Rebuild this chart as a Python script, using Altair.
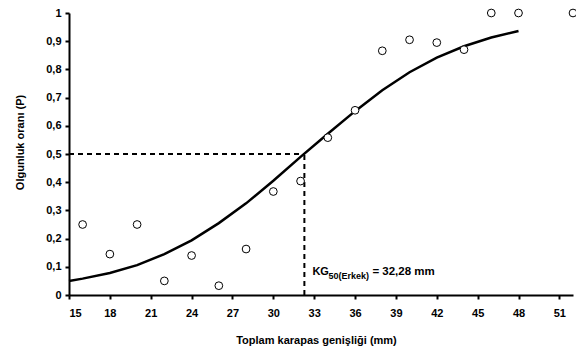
import altair as alt
import pandas as pd

# observed maturity proportions
obs_size = [16, 18, 20, 22, 24, 26, 28, 30, 32, 34, 36, 38, 40, 42, 44, 46, 48, 52]
obs_p = [0.25, 0.145, 0.25, 0.05, 0.14, 0.033, 0.163, 0.367, 0.404, 0.558, 0.655,
         0.866, 0.905, 0.895, 0.87, 1.0, 1.0, 1.0]

# fitted logistic curve
fit_size = [15, 16, 18, 20, 22, 24, 26, 28, 30, 32, 34, 36, 38, 40, 42, 44, 46, 48]
fit_p = [0.05, 0.058, 0.078, 0.106, 0.145, 0.194, 0.255, 0.325, 0.405, 0.49, 0.572,
         0.652, 0.726, 0.79, 0.842, 0.882, 0.913, 0.936]

KG50 = 32.28
KG50_P = 0.5

x_ticks = [15, 18, 21, 24, 27, 30, 33, 36, 39, 42, 45, 48, 51]
y_ticks = [0, 0.1, 0.2, 0.3, 0.4, 0.5, 0.6, 0.7, 0.8, 0.9, 1.0]

obs = pd.DataFrame({"size": obs_size, "p": obs_p})
fit = pd.DataFrame({"size": fit_size, "p": fit_p})
ref_h = pd.DataFrame({"size": [fit_size[0]], "size2": [KG50], "p": [KG50_P]})
ref_v = pd.DataFrame({"size": [KG50], "p": [0.0], "p2": [KG50_P]})

FONT = "Liberation Sans"

xscale = alt.Scale(domain=[15, 52], nice=False, zero=False)
yscale = alt.Scale(domain=[0, 1], nice=False)

xaxis = alt.Axis(values=x_ticks, title="Toplam karapas genişliği (mm)",
                 titleX=247, titleY=45, titleAnchor="middle", titleBaseline="middle")
yaxis = alt.Axis(values=y_ticks, title="Olgunluk oranı (P)",
                 labelExpr="replace(format(datum.value, '~g'), '.', ',')",
                 titleX=-49, titleY=129, titleAngle=270, titleAlign="center",
                 titleBaseline="middle")

X = alt.X("size:Q", scale=xscale, axis=xaxis)
Y = alt.Y("p:Q", scale=yscale, axis=yaxis)

hline = alt.Chart(ref_h).mark_rule(color="black", strokeWidth=2, strokeDash=[5, 4]).encode(
    x=X, x2="size2:Q", y=Y)
vline = alt.Chart(ref_v).mark_rule(color="black", strokeWidth=2, strokeDash=[5, 4]).encode(
    x=X, y=Y, y2="p2:Q")

curve = alt.Chart(fit).mark_line(color="black", strokeWidth=2.5).encode(x=X, y=Y)

points = alt.Chart(obs).mark_point(shape="circle", size=60, filled=False, fill="white",
                                   fillOpacity=1, color="black", strokeWidth=1,
                                   opacity=1).encode(x=X, y=Y)

lab_kg = alt.Chart().mark_text(text="KG", font=FONT, fontWeight="bold", fontSize=11,
                               align="left", baseline="middle", dx=8, color="black").encode(
    x=alt.datum(KG50), y=alt.value(259))
lab_sub = alt.Chart().mark_text(text="50(Erkek)", font=FONT, fontWeight="bold", fontSize=9,
                                align="left", baseline="middle", dx=24, dy=4,
                                color="black").encode(
    x=alt.datum(KG50), y=alt.value(259))
lab_val = alt.Chart().mark_text(text="= 32,28 mm", font=FONT, fontWeight="bold", fontSize=11.5,
                                align="left", baseline="middle", dx=68,
                                color="black").encode(
    x=alt.datum(KG50), y=alt.value(259))

chart = alt.layer(hline, vline, curve, points, lab_kg, lab_sub, lab_val).properties(
    width=504, height=282,
    autosize=alt.AutoSizeParams(type="none"),
    padding={"left": 61, "top": 5, "right": 3, "bottom": 51},
).configure_view(stroke=None).configure_axis(
    grid=False, domainColor="black", domainWidth=2, tickColor="black", tickWidth=2,
    tickSize=4, labelFont=FONT, labelFontWeight="bold", labelFontSize=11,
    labelColor="black", titleFont=FONT, titleFontWeight="bold", titleFontSize=11,
    titleColor="black", labelPadding=4,
).configure_axisX(labelPadding=8)

chart.save("out.html", embed_options={"renderer": "svg", "actions": False})
